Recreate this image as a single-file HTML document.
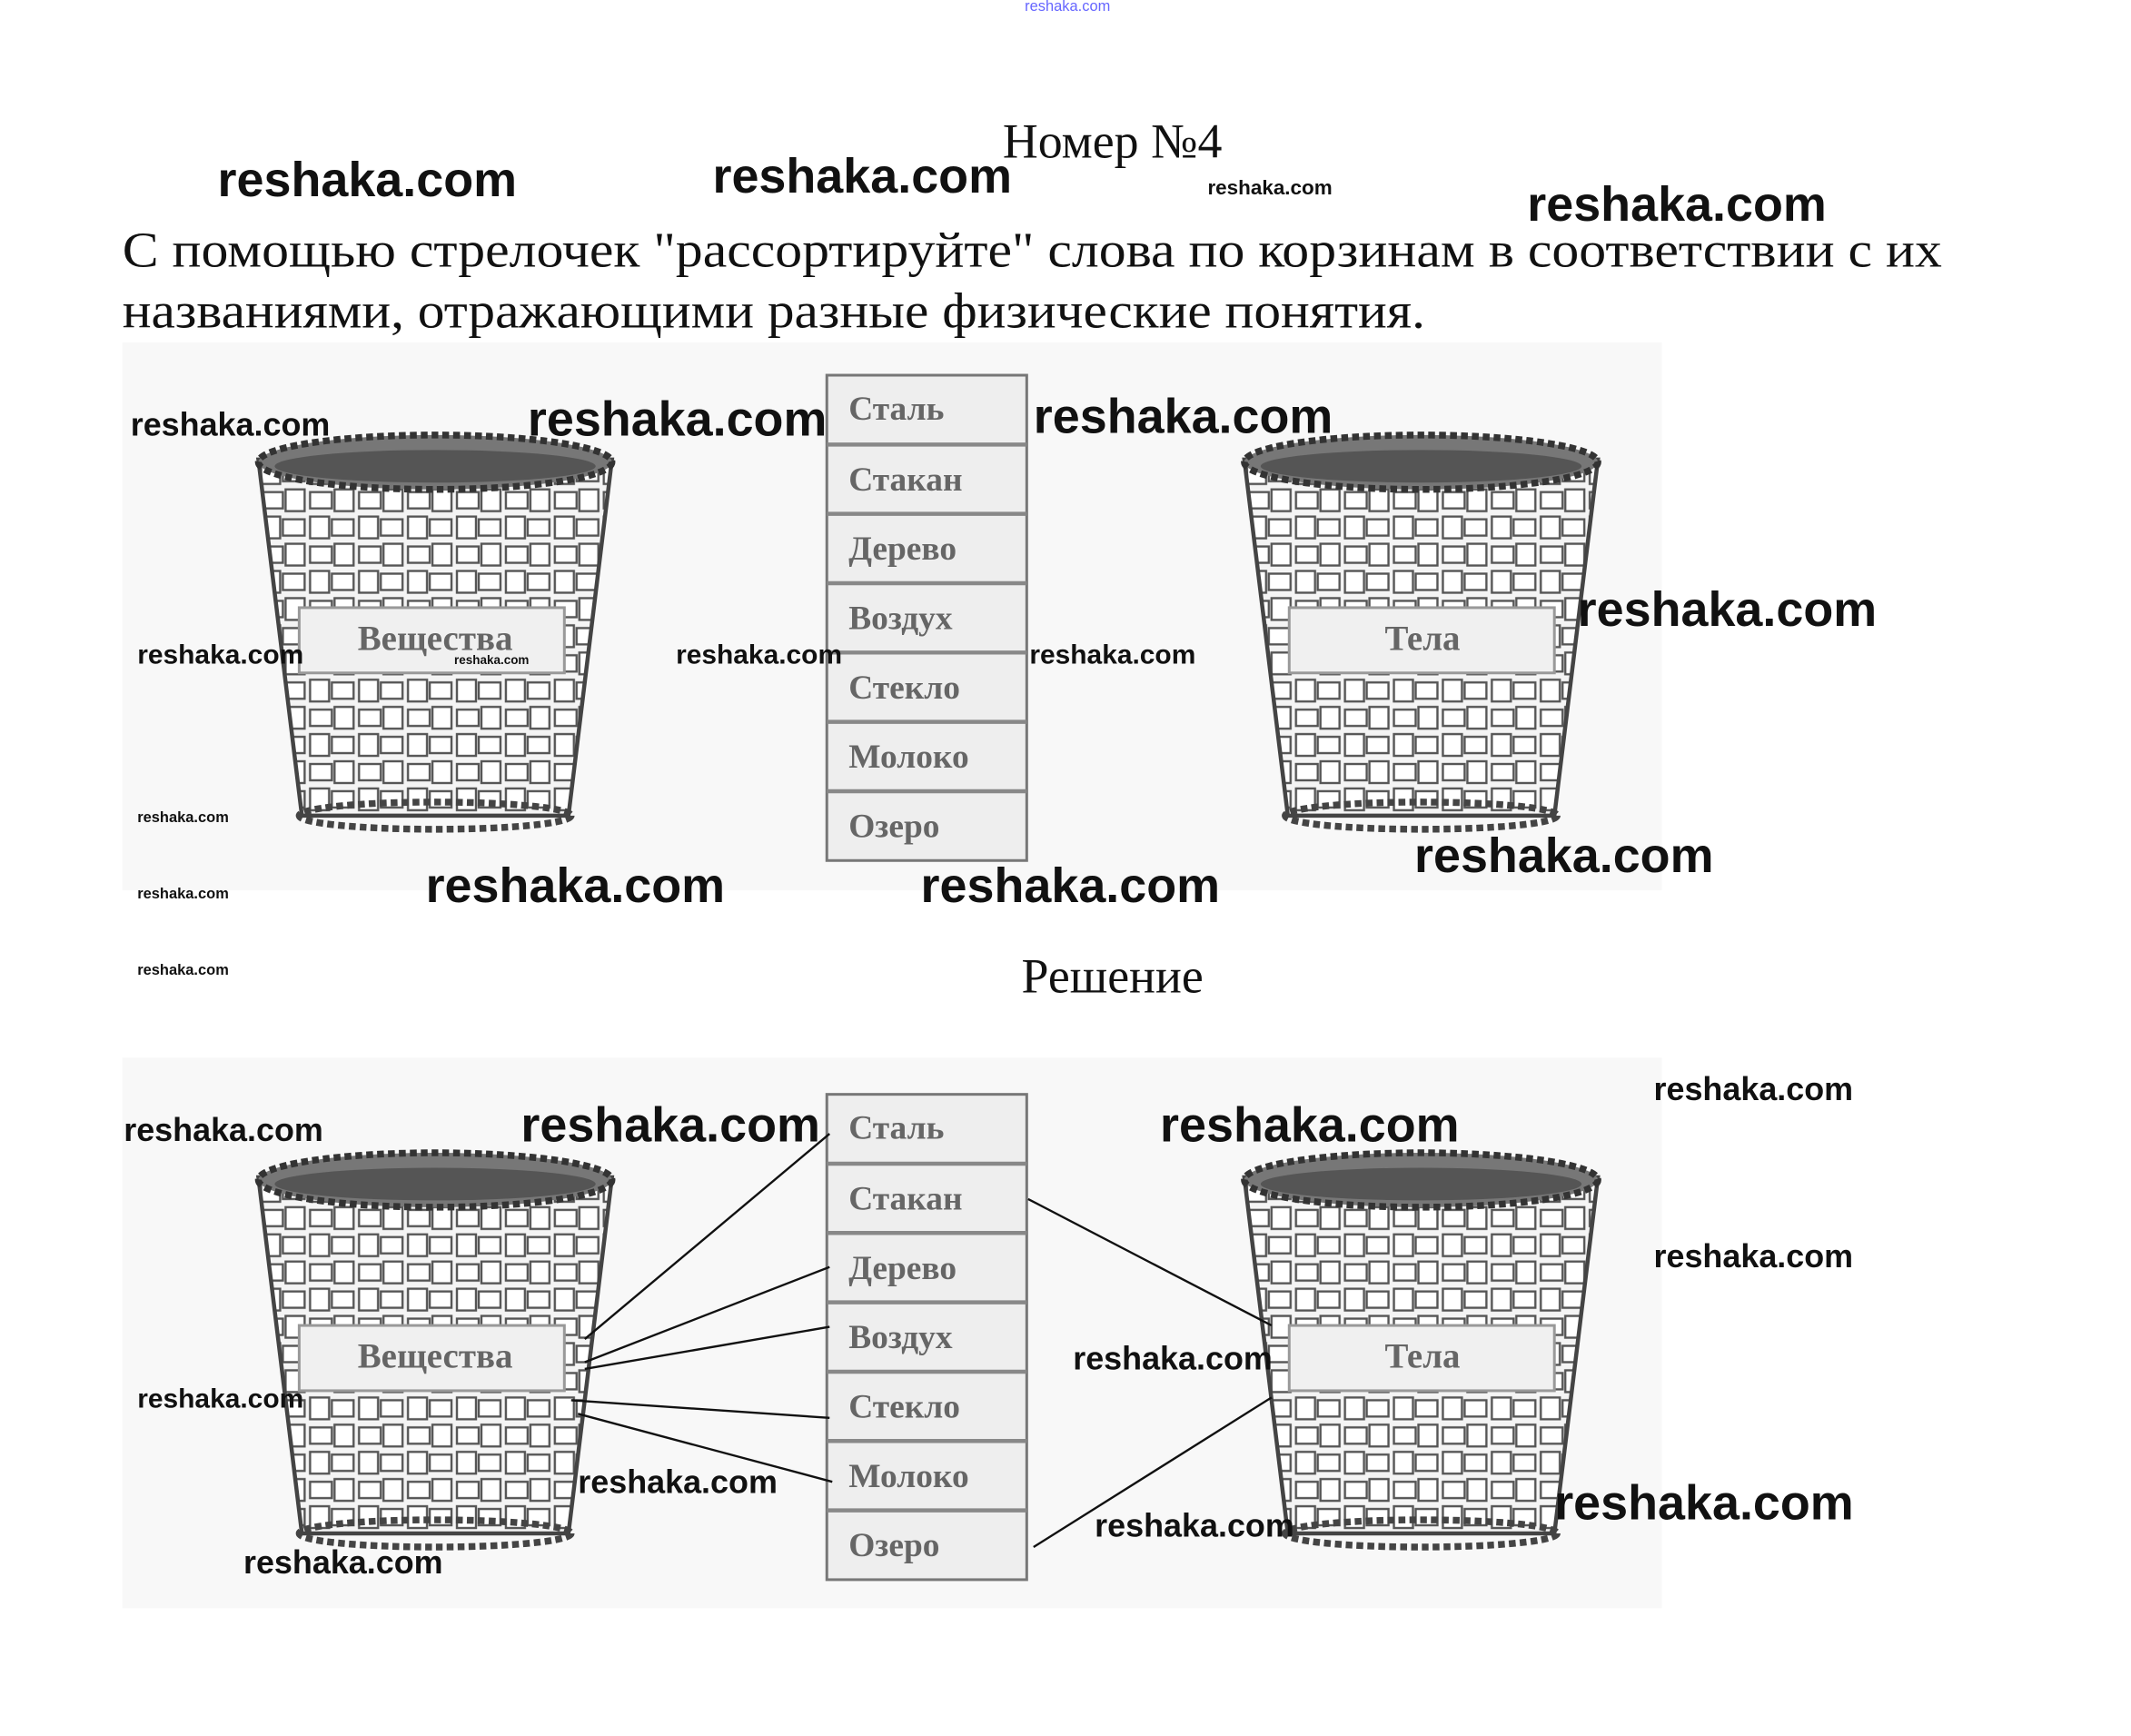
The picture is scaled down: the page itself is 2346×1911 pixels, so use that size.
<!DOCTYPE html>
<html><head><meta charset="utf-8"><style>
html,body{margin:0;padding:0;background:#fff;}
svg{display:block;}
.wm{font-family:"Liberation Sans",sans-serif;font-weight:bold;fill:#111;dominant-baseline:middle;}
.sr{font-family:"Liberation Serif","Noto Serif CJK SC",serif;fill:#111;}
.cell{font-family:"Liberation Serif",serif;font-weight:bold;fill:#666;font-size:25px;dominant-baseline:middle;}
.lab{font-family:"Liberation Serif",serif;font-weight:bold;fill:#666;font-size:26px;text-anchor:middle;dominant-baseline:middle;}
</style></head><body>
<svg width="2346" height="1911" viewBox="0 0 1567 1277" preserveAspectRatio="none" xmlns="http://www.w3.org/2000/svg">
<defs>
<pattern id="weave" width="36" height="40" patternUnits="userSpaceOnUse">
<rect width="36" height="40" fill="#f4f4f4"/>
<rect x="2" y="2" width="14" height="16" fill="#fff" stroke="#555" stroke-width="1.6"/>
<rect x="18" y="4" width="16" height="12" fill="#fff" stroke="#555" stroke-width="1.6"/>
<rect x="2" y="24" width="16" height="12" fill="#fff" stroke="#555" stroke-width="1.6"/>
<rect x="20" y="22" width="14" height="16" fill="#fff" stroke="#555" stroke-width="1.6"/>
</pattern>
<g id="basket">
<path d="M0,0 L260,0 L228,262 L32,262 Z" fill="url(#weave)" stroke="#444" stroke-width="3"/>
<ellipse cx="130" cy="2" rx="130" ry="20" fill="#777" stroke="#333" stroke-width="5" stroke-dasharray="5 3"/>
<ellipse cx="130" cy="5" rx="118" ry="12" fill="#555"/>
<ellipse cx="130" cy="262" rx="100" ry="10" fill="none" stroke="#444" stroke-width="5" stroke-dasharray="5 3"/>
</g>
<g id="table">
<rect x="0" y="0" width="147" height="357" fill="#eee" stroke="#777" stroke-width="2"/>
<g stroke="#888" stroke-width="3">
<line x1="0" y1="51" x2="147" y2="51"/><line x1="0" y1="102" x2="147" y2="102"/>
<line x1="0" y1="153" x2="147" y2="153"/><line x1="0" y1="204" x2="147" y2="204"/>
<line x1="0" y1="255" x2="147" y2="255"/><line x1="0" y1="306" x2="147" y2="306"/>
</g>
<text class="cell" x="16" y="27">Сталь</text>
<text class="cell" x="16" y="79">Стакан</text>
<text class="cell" x="16" y="130">Дерево</text>
<text class="cell" x="16" y="181">Воздух</text>
<text class="cell" x="16" y="232">Стекло</text>
<text class="cell" x="16" y="283">Молоко</text>
<text class="cell" x="16" y="334">Озеро</text>
</g>
</defs>

<text x="785" y="8" font-family="Liberation Sans,sans-serif" font-size="11" fill="#66f" text-anchor="middle">reshaka.com</text>
<text class="sr" x="818" y="116" font-size="36" text-anchor="middle">Номер №4</text>
<text class="sr" x="90" y="196" font-size="37" textLength="1338" lengthAdjust="spacingAndGlyphs">С помощью стрелочек "рассортируйте" слова по корзинам в соответствии с их</text>
<text class="sr" x="90" y="241" font-size="37" textLength="958" lengthAdjust="spacingAndGlyphs">названиями, отражающими разные физические понятия.</text>

<!-- picture 1 -->
<rect x="90" y="252" width="1132" height="403" fill="#f8f8f8"/>
<use href="#basket" x="190" y="338"/>
<use href="#basket" x="915" y="338"/>
<rect x="220" y="447" width="195" height="48" fill="#f0f0f0" stroke="#999" stroke-width="2"/>
<text class="lab" x="320" y="472">Вещества</text>
<rect x="948" y="447" width="195" height="48" fill="#f0f0f0" stroke="#999" stroke-width="2"/>
<text class="lab" x="1046" y="472">Тела</text>
<use href="#table" x="608" y="276"/>

<text class="sr" x="818" y="730" font-size="36" text-anchor="middle">Решение</text>

<!-- picture 2 -->
<rect x="90" y="778" width="1132" height="405" fill="#f8f8f8"/>
<use href="#basket" x="190" y="866"/>
<use href="#basket" x="915" y="866"/>
<rect x="220" y="975" width="195" height="48" fill="#f0f0f0" stroke="#999" stroke-width="2"/>
<text class="lab" x="320" y="1000">Вещества</text>
<rect x="948" y="975" width="195" height="48" fill="#f0f0f0" stroke="#999" stroke-width="2"/>
<text class="lab" x="1046" y="1000">Тела</text>
<use href="#table" x="608" y="805"/>
<g stroke="#111" stroke-width="1.6" fill="none">
<line x1="430" y1="985" x2="610" y2="834"/>
<line x1="430" y1="1002" x2="610" y2="932"/>
<line x1="430" y1="1007" x2="610" y2="976"/>
<line x1="420" y1="1030" x2="610" y2="1043"/>
<line x1="425" y1="1040" x2="612" y2="1090"/>
<line x1="756" y1="882" x2="935" y2="975"/>
<line x1="760" y1="1138" x2="935" y2="1028"/>
</g>

<!-- watermarks -->
<g class="wm" font-size="36">
<text x="160" y="135">reshaka.com</text>
<text x="524" y="132">reshaka.com</text>
<text x="1123" y="153">reshaka.com</text>
<text x="388" y="311">reshaka.com</text>
<text x="760" y="309">reshaka.com</text>
<text x="1160" y="451">reshaka.com</text>
<text x="1040" y="632">reshaka.com</text>
<text x="313" y="654">reshaka.com</text>
<text x="677" y="654">reshaka.com</text>
<text x="383" y="830">reshaka.com</text>
<text x="853" y="830">reshaka.com</text>
<text x="1143" y="1108">reshaka.com</text>
</g>
<g class="wm" font-size="24" font-weight="normal">
<text x="96" y="314">reshaka.com</text>
<text x="91" y="833">reshaka.com</text>
<text x="1216" y="803">reshaka.com</text>
<text x="1216" y="926">reshaka.com</text>
<text x="789" y="1001">reshaka.com</text>
<text x="425" y="1092">reshaka.com</text>
<text x="805" y="1124">reshaka.com</text>
<text x="179" y="1151">reshaka.com</text>
</g>
<g class="wm" font-size="20" font-weight="normal">
<text x="101" y="483">reshaka.com</text>
<text x="497" y="483">reshaka.com</text>
<text x="757" y="483">reshaka.com</text>
<text x="101" y="1030">reshaka.com</text>
</g>
<g class="wm" font-size="15" font-weight="normal"><text x="888" y="139">reshaka.com</text></g>
<g class="wm" font-size="11" font-weight="normal">
<text x="101" y="602">reshaka.com</text>
<text x="101" y="658">reshaka.com</text>
<text x="101" y="714">reshaka.com</text>
<text x="334" y="486" font-size="9">reshaka.com</text>
</g>
</svg>
</body></html>
